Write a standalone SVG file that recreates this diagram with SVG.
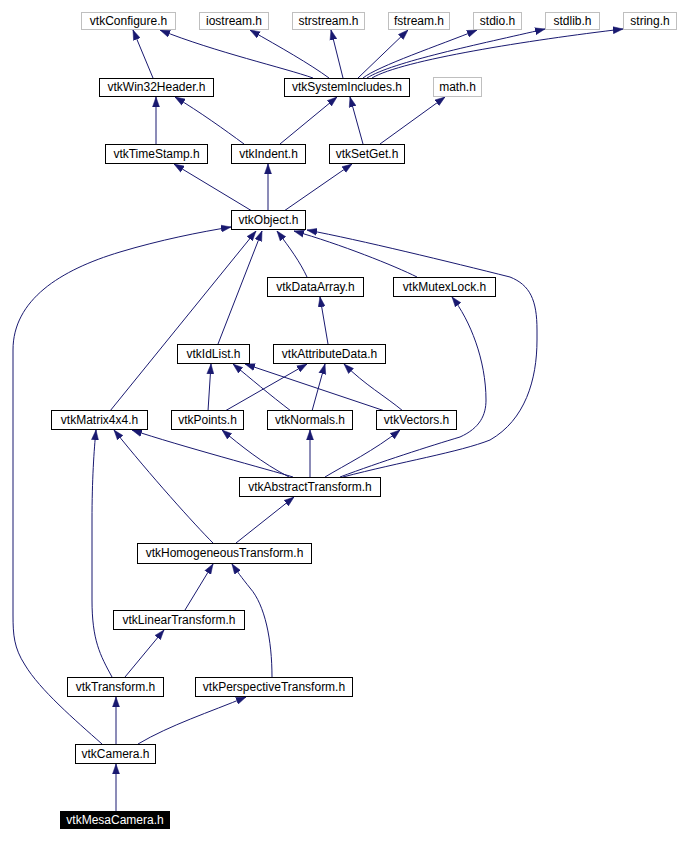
<svg xmlns="http://www.w3.org/2000/svg" width="678" height="842" viewBox="0 0 678 842">
<style>
rect{fill:#fff;stroke:#000;stroke-width:1}
.g rect{stroke:#bfbfbf}
.m rect{fill:#000}
text{font-family:"Liberation Sans",Arial,sans-serif;font-size:12px;text-anchor:middle;fill:#000}
.m text{fill:#fff}
#edges path{fill:none;stroke:#191970;stroke-width:1;marker-end:url(#a)}
</style>
<defs>
<marker id="a" markerUnits="userSpaceOnUse" markerWidth="10" markerHeight="8" refX="10" refY="4" orient="auto">
<path d="M0,0.5 L10,4 L0,7.5 z" fill="#191970" stroke="#191970" stroke-width="0.5"/>
</marker>
</defs>
<rect x="0" y="0" width="678" height="842" style="fill:#fff;stroke:none"/>
<g id="edges">
<path d="M153,78 L133,30"/>
<path d="M313,78 C285,68 215,52 160,30"/>
<path d="M329,78 C310,64 280,47 250,30"/>
<path d="M343,78 L331,30"/>
<path d="M358,78 L408,30"/>
<path d="M363,78 C378,66 440,45 477,30"/>
<path d="M367,78 C392,62 480,44 545,29"/>
<path d="M372,78 C402,60 530,40 623,29"/>
<path d="M156,144 L156,97"/>
<path d="M244,144 C225,130 200,112 175,97"/>
<path d="M280,144 L337,97"/>
<path d="M363,144 L350,97"/>
<path d="M380,144 L445,97"/>
<path d="M252,211 L174,164"/>
<path d="M268,211 L268,164"/>
<path d="M284,211 L352,164"/>
<path d="M307,277 C300,262 290,248 277,231"/>
<path d="M417,277 C395,266 340,244 294,231"/>
<path d="M343,477 C400,462 460,452 490,440 C525,420 537,380 537,340 L537,330 C537,300 530,285 510,277 C450,262 360,240 307,230"/>
<path d="M218,344 L262,231"/>
<path d="M110,411 L256,231"/>
<path d="M102,744 C75,720 40,690 25,665 C14,648 13,635 13,615 L13,350 C13,300 60,270 120,252 C160,240 200,232 231,227"/>
<path d="M328,344 L320,297"/>
<path d="M208,411 L211,364"/>
<path d="M225,411 L307,364"/>
<path d="M291,411 C270,395 250,378 233,364"/>
<path d="M312,411 L325,364"/>
<path d="M385,411 L245,364"/>
<path d="M403,411 C385,396 365,385 344,364"/>
<path d="M293,477 C270,470 180,446 132,430"/>
<path d="M289,477 C262,463 240,445 222,430"/>
<path d="M310,477 L310,430"/>
<path d="M325,477 C345,465 375,450 400,430"/>
<path d="M340,477 C380,462 430,446 460,437 C480,428 486,415 486,400 C486,360 470,320 452,297"/>
<path d="M236,543 L294,497"/>
<path d="M213,543 C195,525 150,475 114,430"/>
<path d="M185,610 L213,564"/>
<path d="M272,677 C272,640 265,605 250,588 C242,578 236,570 232,564"/>
<path d="M125,677 L164,630"/>
<path d="M112,677 C100,655 92,640 92,600 L92,520 C92,480 94,450 96,430"/>
<path d="M116,744 L116,697"/>
<path d="M138,744 C170,725 210,712 246,697"/>
<path d="M116,811 L116,764"/>
</g>
<g id="n_configure" class="g"><rect x="81.5" y="12.5" width="94" height="17"/><text x="128.5" y="24.5">vtkConfigure.h</text></g>
<g id="n_iostream" class="g"><rect x="199.5" y="12.5" width="69" height="17"/><text x="234" y="24.5">iostream.h</text></g>
<g id="n_strstream" class="g"><rect x="292.5" y="12.5" width="72" height="17"/><text x="328.5" y="24.5">strstream.h</text></g>
<g id="n_fstream" class="g"><rect x="388.5" y="12.5" width="61" height="17"/><text x="419" y="24.5">fstream.h</text></g>
<g id="n_stdio" class="g"><rect x="473.5" y="12.5" width="48" height="17"/><text x="497.5" y="24.5">stdio.h</text></g>
<g id="n_stdlib" class="g"><rect x="545.5" y="12.5" width="54" height="17"/><text x="572.5" y="24.5">stdlib.h</text></g>
<g id="n_string" class="g"><rect x="623.5" y="12.5" width="53" height="17"/><text x="650" y="24.5">string.h</text></g>
<g id="n_win32"><rect x="99.5" y="78.5" width="114" height="18"/><text x="156.5" y="91">vtkWin32Header.h</text></g>
<g id="n_sysinc"><rect x="284.5" y="78.5" width="125" height="18"/><text x="347" y="91">vtkSystemIncludes.h</text></g>
<g id="n_math" class="g"><rect x="433.5" y="77.5" width="48" height="19"/><text x="457.5" y="90.5">math.h</text></g>
<g id="n_timestamp"><rect x="105.5" y="144.5" width="102" height="19"/><text x="156.5" y="157.5">vtkTimeStamp.h</text></g>
<g id="n_indent"><rect x="231.5" y="144.5" width="74" height="19"/><text x="268.5" y="157.5">vtkIndent.h</text></g>
<g id="n_setget"><rect x="329.5" y="144.5" width="75" height="19"/><text x="367" y="157.5">vtkSetGet.h</text></g>
<g id="n_object"><rect x="231.5" y="210.5" width="74" height="19"/><text x="268.5" y="223.5">vtkObject.h</text></g>
<g id="n_dataarray"><rect x="267.5" y="277.5" width="96" height="19"/><text x="315.5" y="290.5">vtkDataArray.h</text></g>
<g id="n_mutex"><rect x="393.5" y="277.5" width="102" height="19"/><text x="444.5" y="290.5">vtkMutexLock.h</text></g>
<g id="n_idlist"><rect x="177.5" y="344.5" width="72" height="19"/><text x="213.5" y="357.5">vtkIdList.h</text></g>
<g id="n_attr"><rect x="273.5" y="344.5" width="112" height="19"/><text x="329.5" y="357.5">vtkAttributeData.h</text></g>
<g id="n_matrix"><rect x="51.5" y="410.5" width="96" height="19"/><text x="99.5" y="423.5">vtkMatrix4x4.h</text></g>
<g id="n_points"><rect x="171.5" y="410.5" width="72" height="19"/><text x="207.5" y="423.5">vtkPoints.h</text></g>
<g id="n_normals"><rect x="267.5" y="410.5" width="85" height="19"/><text x="310" y="423.5">vtkNormals.h</text></g>
<g id="n_vectors"><rect x="376.5" y="410.5" width="80" height="19"/><text x="416.5" y="423.5">vtkVectors.h</text></g>
<g id="n_abstract"><rect x="239.5" y="477.5" width="141" height="19"/><text x="310" y="490.5">vtkAbstractTransform.h</text></g>
<g id="n_homog"><rect x="137.5" y="543.5" width="174" height="20"/><text x="224.5" y="557">vtkHomogeneousTransform.h</text></g>
<g id="n_linear"><rect x="113.5" y="610.5" width="131" height="19"/><text x="179" y="623.5">vtkLinearTransform.h</text></g>
<g id="n_transform"><rect x="67.5" y="677.5" width="96" height="19"/><text x="115.5" y="690.5">vtkTransform.h</text></g>
<g id="n_persp"><rect x="195.5" y="677.5" width="157" height="19"/><text x="274" y="690.5">vtkPerspectiveTransform.h</text></g>
<g id="n_camera"><rect x="75.5" y="744.5" width="80" height="19"/><text x="115.5" y="757.5">vtkCamera.h</text></g>
<g id="n_mesa" class="m"><rect x="60" y="811" width="110" height="18" style="stroke:none"/><text x="115" y="823.5">vtkMesaCamera.h</text></g>
</svg>
